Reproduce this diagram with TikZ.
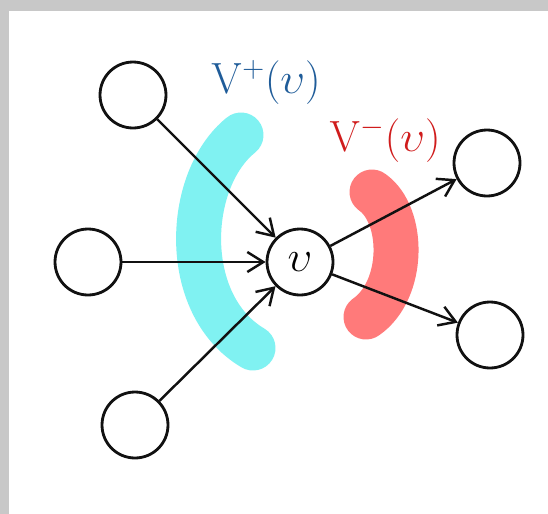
\documentclass[tikz,border=0pt]{standalone}
\usepackage{tikz}
\usetikzlibrary{arrows.meta, positioning, backgrounds}
\definecolor{vtxline}{HTML}{111111}
\definecolor{infill}{HTML}{80F2F2}
\definecolor{outfill}{HTML}{FF7A7A}
\definecolor{inlbl}{HTML}{1F5C99}
\definecolor{outlbl}{HTML}{D01C1C}
\definecolor{frame}{HTML}{C8C8C8}
\tikzset{
  vtx/.style    = {circle, draw=vtxline, fill=white, line width=1.6pt,
                   minimum size=1.32cm, inner sep=0pt},
  hub/.style    = {vtx, font=\fontsize{30}{32}\selectfont},
  setlbl/.style = {font=\fontsize{24}{28}\selectfont, inner sep=1pt},
  flow/.style   = {-{Straight Barb[length=3.2mm, width=4mm, line width=1.4pt]},
                   line width=1.4pt, draw=vtxline},
  band/.style   = {line width=0.9cm, line cap=round},
}
\begin{document}
\begin{tikzpicture}[x=0.02cm, y=-0.02cm]
        \useasboundingbox (0,0) rectangle (548,514);
        \fill[frame] (0,0) rectangle (548,514);
        \fill[white] (9,11) rectangle (548,514);
        % in- and out-neighbour bands
        \draw[band, draw=infill]  (241,135) .. controls (185,180) and (180,305) .. (253,348);
        \draw[band, draw=outfill] (372,192) .. controls (405,215) and (405,290) .. (366,317);
        \node[setlbl, text=inlbl]  (inlab)  at (266,82)  {$\mathrm{V}^{+}(\upsilon)$};
        \node[setlbl, text=outlbl] (outlab) at (385,140) {$\mathrm{V}^{-}(\upsilon)$};
        % vertices
        \node[hub] (v)  at (300,262) {$\upsilon$};
        \node[vtx] (a1) at (133,95)  {};
        \node[vtx] (a2) at (88,262)  {};
        \node[vtx] (a3) at (135,425) {};
        \node[vtx] (b1) at (487,163) {};
        \node[vtx] (b2) at (490,335) {};
        \foreach \a/\b in {a1/v, a2/v, a3/v, v/b1, v/b2}{\draw[flow] (\a) -- (\b);}
    \end{tikzpicture}
\end{document}
